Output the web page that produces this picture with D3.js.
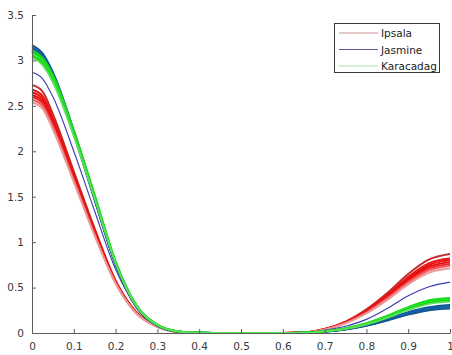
<!DOCTYPE html>
<html>
<head>
<meta charset="utf-8">
<script src="https://cdn.jsdelivr.net/npm/d3@7"></script>
<style>
  html, body { margin: 0; padding: 0; background: #fff; }
  svg { display: block; }
  .tick text { font-family: "DejaVu Sans", sans-serif; font-size: 10.5px; fill: #3a3a3a; }
</style>
</head>
<body>
<svg width="452" height="355"></svg>
<script>
// sample positions along x (same for every curve)
const xs = [0, 0.025, 0.05, 0.1, 0.15, 0.2, 0.25, 0.3, 0.35, 0.4, 0.45, 0.5, 0.55,
            0.6, 0.65, 0.7, 0.75, 0.8, 0.85, 0.9, 0.95, 1];

// Ipsala (red bundle)
const ipsala = [
  [2.73, 2.66, 2.41, 1.78, 1.15, 0.58, 0.23, 0.075, 0.013, 0, 0, 0, 0, 0, 0.006, 0.045, 0.125, 0.26, 0.44, 0.65, 0.81, 0.87],
  [2.68, 2.61, 2.37, 1.75, 1.13, 0.57, 0.225, 0.073, 0.012, 0, 0, 0, 0, 0, 0.005, 0.043, 0.12, 0.245, 0.42, 0.62, 0.77, 0.82],
  [2.65, 2.58, 2.34, 1.73, 1.12, 0.565, 0.222, 0.072, 0.012, 0, 0, 0, 0, 0, 0.005, 0.042, 0.118, 0.24, 0.41, 0.6, 0.75, 0.8],
  [2.62, 2.55, 2.31, 1.71, 1.1, 0.56, 0.22, 0.071, 0.012, 0, 0, 0, 0, 0, 0.005, 0.041, 0.115, 0.235, 0.4, 0.59, 0.73, 0.78],
  [2.6, 2.53, 2.29, 1.7, 1.09, 0.555, 0.218, 0.07, 0.011, 0, 0, 0, 0, 0, 0.005, 0.04, 0.112, 0.23, 0.39, 0.57, 0.71, 0.76],
  [2.57, 2.5, 2.27, 1.68, 1.08, 0.55, 0.215, 0.069, 0.011, 0, 0, 0, 0, 0, 0.004, 0.039, 0.11, 0.225, 0.38, 0.555, 0.69, 0.74],
  [2.54, 2.47, 2.24, 1.66, 1.07, 0.545, 0.212, 0.068, 0.011, 0, 0, 0, 0, 0, 0.004, 0.037, 0.105, 0.215, 0.365, 0.535, 0.665, 0.71]
];
const ipsalaColors = ['#c42a2a', '#e81818', '#f01010', '#e00c0c', '#f02424', '#f06060', '#eb9a9a'];

// Jasmine (dark blue bundle + one thin outlier)
const jasmine = [
  [3.17, 3.08, 2.87, 2.23, 1.5, 0.77, 0.29, 0.085, 0.016, 0.002, 0, 0, 0, 0, 0.003, 0.017, 0.043, 0.088, 0.155, 0.23, 0.285, 0.31],
  [3.15, 3.06, 2.85, 2.22, 1.49, 0.765, 0.288, 0.084, 0.016, 0.002, 0, 0, 0, 0, 0.003, 0.016, 0.042, 0.086, 0.15, 0.223, 0.277, 0.3],
  [3.13, 3.04, 2.83, 2.2, 1.48, 0.76, 0.286, 0.083, 0.016, 0.002, 0, 0, 0, 0, 0.002, 0.016, 0.041, 0.084, 0.146, 0.216, 0.268, 0.29],
  [3.11, 3.02, 2.81, 2.19, 1.47, 0.755, 0.284, 0.082, 0.015, 0.002, 0, 0, 0, 0, 0.002, 0.015, 0.04, 0.081, 0.141, 0.209, 0.259, 0.28],
  [3.1, 3.01, 2.8, 2.18, 1.46, 0.75, 0.282, 0.081, 0.015, 0.002, 0, 0, 0, 0, 0.002, 0.015, 0.039, 0.079, 0.137, 0.203, 0.251, 0.27]
];
const jasmineColors = ['#0b4f86', '#1560a8', '#0a5a9a', '#1f6ab8', '#14548f'];
const jasmineThin = [2.87, 2.8, 2.6, 2.0, 1.34, 0.7, 0.29, 0.095, 0.018, 0.002, 0, 0, 0, 0, 0.004, 0.03, 0.075, 0.15, 0.27, 0.41, 0.51, 0.56];

// Karacadag (green bundle)
const karacadag = [
  [3.11, 3.03, 2.84, 2.23, 1.52, 0.79, 0.305, 0.092, 0.018, 0.002, 0, 0, 0, 0, 0.003, 0.021, 0.053, 0.108, 0.19, 0.285, 0.36, 0.385],
  [3.09, 3.01, 2.82, 2.21, 1.51, 0.785, 0.302, 0.091, 0.018, 0.002, 0, 0, 0, 0, 0.003, 0.02, 0.051, 0.104, 0.185, 0.277, 0.35, 0.375],
  [3.07, 2.99, 2.8, 2.2, 1.5, 0.78, 0.3, 0.09, 0.018, 0.002, 0, 0, 0, 0, 0.003, 0.02, 0.05, 0.1, 0.18, 0.27, 0.34, 0.365],
  [3.05, 2.97, 2.78, 2.19, 1.49, 0.775, 0.298, 0.089, 0.017, 0.002, 0, 0, 0, 0, 0.003, 0.019, 0.048, 0.097, 0.174, 0.262, 0.33, 0.355],
  [3.03, 2.95, 2.76, 2.17, 1.48, 0.77, 0.295, 0.088, 0.017, 0.002, 0, 0, 0, 0, 0.003, 0.018, 0.046, 0.094, 0.168, 0.254, 0.32, 0.345]
];
const karacadagColors = ['#22d622', '#00e600', '#3ce83c', '#10cc10', '#5ce05c'];

const xTicks = [0, 0.1, 0.2, 0.3, 0.4, 0.5, 0.6, 0.7, 0.8, 0.9, 1];
const yTicks = [0, 0.5, 1, 1.5, 2, 2.5, 3, 3.5];
const legendNames = ['Ipsala', 'Jasmine', 'Karacadag'];
const legendColors = ['#c99090', '#5a5aa0', '#a6e2a6'];

const svg = d3.select('svg');
const x = d3.scaleLinear().domain([0, 1]).range([32, 450]);
const y = d3.scaleLinear().domain([0, 3.5]).range([333, 15]);

const line = d3.line()
  .x((d, i) => x(xs[i]))
  .y(d => y(d))
  .curve(d3.curveMonotoneX);

function drawBundle(series, colors, width) {
  series.forEach((s, i) => {
    svg.append('path')
      .attr('d', line(s))
      .attr('fill', 'none')
      .attr('stroke', colors[i % colors.length])
      .attr('stroke-width', width);
  });
}

drawBundle(ipsala, ipsalaColors, 1.9);
drawBundle(jasmine, jasmineColors, 1.9);
drawBundle([jasmineThin], ['#3a3ab0'], 1.1);
drawBundle(karacadag, karacadagColors, 1.9);

// axes, ticks pointing inward
const xAxis = svg.append('g')
  .attr('transform', 'translate(0,333)')
  .call(d3.axisBottom(x).tickValues(xTicks).tickFormat(d3.format('~g')).tickSizeInner(-4).tickSizeOuter(0).tickPadding(10));
const yAxis = svg.append('g')
  .attr('transform', 'translate(32,0)')
  .call(d3.axisLeft(y).tickValues(yTicks).tickFormat(d3.format('~g')).tickSizeInner(-4).tickSizeOuter(0).tickPadding(8));

[xAxis, yAxis].forEach(g => {
  g.select('.domain').attr('stroke', '#5c5c5c');
  g.selectAll('.tick line').attr('stroke', '#5c5c5c');
});

// legend
const legend = svg.append('g');
legend.append('rect')
  .attr('x', 334.5).attr('y', 23.5)
  .attr('width', 105).attr('height', 49)
  .attr('fill', '#fff').attr('stroke', '#3a3a3a');
legendNames.forEach((name, i) => {
  const ly = 33 + i * 16.5;
  legend.append('line')
    .attr('x1', 339).attr('x2', 378)
    .attr('y1', ly).attr('y2', ly)
    .attr('stroke', legendColors[i]).attr('stroke-width', 1.2);
  legend.append('text')
    .attr('x', 381).attr('y', ly + 4)
    .attr('font-family', '"DejaVu Sans", sans-serif')
    .attr('font-size', '10.5px')
    .attr('fill', '#222')
    .text(name);
});
</script>
</body>
</html>
